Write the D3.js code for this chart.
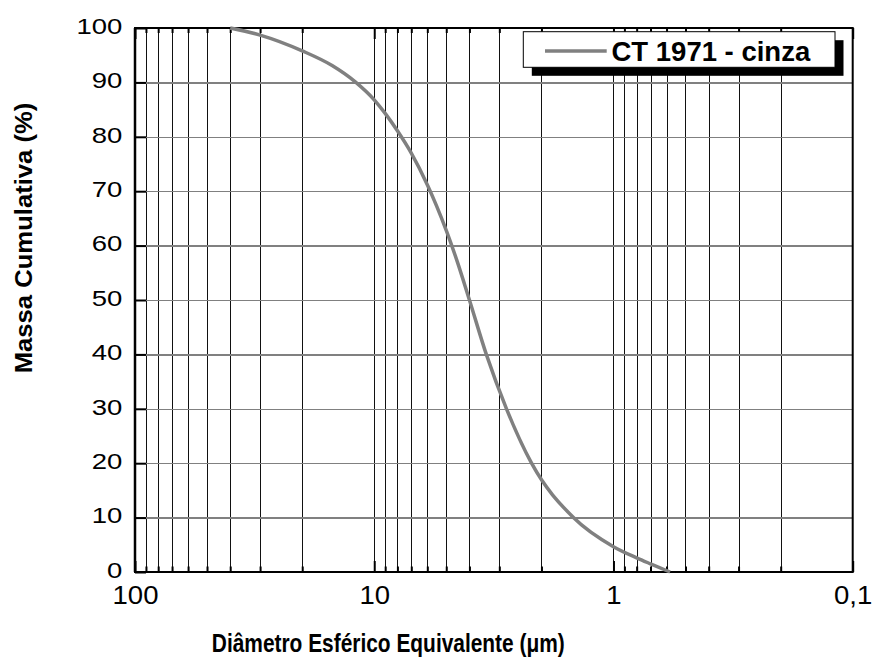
<!DOCTYPE html>
<html>
<head>
<meta charset="utf-8">
<style>
    body { margin: 0; background: #fff; }
    svg { display: block; }
    text { font-family: Arial, 'Liberation Sans', sans-serif; }
    .grid .domain, .ticks .domain, .labels .domain { display: none; }
    .vgrid line { stroke: #111; stroke-width: 1; shape-rendering: crispEdges; }
    .hgrid line { stroke: #808080; stroke-width: 1.4; shape-rendering: crispEdges; }
    .ticks line { stroke: #000; stroke-width: 2; }
    .labels line { display: none; }
    .labels text { fill: #000; font-family: Arial, 'Liberation Sans', sans-serif; }
</style>
</head>
<body>
<svg width="874" height="664"></svg>

<script src="https://d3js.org/d3.v7.min.js"></script>
<script>
// particle size distribution
const diameter = [40, 30, 20, 15, 12, 10, 9, 8, 7, 6, 5.5, 5, 4.5, 4, 3.4, 2.8, 2.2, 1.47, 1, 0.8, 0.7, 0.58];
const cumulative = [100, 98.7, 95.8, 93.1, 90.1, 86.8, 84.3, 81.1, 77.0, 71.2, 67.4, 62.8, 57.1, 50, 40, 30, 20, 10, 4.65, 2.6, 1.5, 0];

const xDecades = [100, 10, 1, 0.1];
const xMinor = [90, 80, 70, 60, 50, 40, 30, 20, 9, 8, 7, 6, 5, 4, 3, 2, 0.9, 0.8, 0.7, 0.6, 0.5, 0.4, 0.3, 0.2];
const yTicks = [0, 10, 20, 30, 40, 50, 60, 70, 80, 90, 100];

const seriesName = "CT 1971 - cinza";
const xTitle = "Diâmetro Esférico Equivalente (μm)";
const yTitle = "Massa Cumulativa (%)";

const pLeft = 135, pRight = 852.7, pTop = 28, pBottom = 572;

let svg = d3.select("svg");

let x = d3.scaleLog().domain([100, 0.1]).range([pLeft, pRight]);
let y = d3.scaleLinear().domain([0, 100]).range([pBottom, pTop]);

// vertical grid
svg.append("g")
    .attr("class", "grid vgrid")
    .attr("transform", `translate(0,${pBottom})`)
    .call(d3.axisBottom(x).tickValues(xMinor.concat([10, 1])).tickSize(-(pBottom - pTop)).tickFormat(""));

// horizontal grid
svg.append("g")
    .attr("class", "grid hgrid")
    .attr("transform", `translate(${pLeft},0)`)
    .call(d3.axisLeft(y).tickValues(yTicks.slice(1, -1)).tickSize(-(pRight - pLeft)).tickFormat(""));

// inward tick marks
function tickAxis(axis, vals, size, tr) {
    svg.append("g")
        .attr("class", "ticks")
        .attr("transform", tr)
        .call(axis.tickValues(vals).tickSize(size).tickFormat(""));
}
tickAxis(d3.axisBottom(x), xMinor, -5.5, `translate(0,${pBottom})`);
tickAxis(d3.axisBottom(x), xDecades, -11, `translate(0,${pBottom})`);
tickAxis(d3.axisTop(x), xMinor, -5, `translate(0,${pTop})`);
tickAxis(d3.axisTop(x), xDecades, -11, `translate(0,${pTop})`);
tickAxis(d3.axisLeft(y), yTicks, -11, `translate(${pLeft},0)`);

// frame
svg.append("rect")
    .attr("x", pLeft).attr("y", pTop)
    .attr("width", pRight - pLeft).attr("height", pBottom - pTop)
    .style("fill", "none").style("stroke", "#000").style("stroke-width", 2);
svg.append("line")
    .attr("x1", pLeft).attr("x2", pLeft).attr("y1", pTop).attr("y2", pBottom)
    .style("stroke", "#000").style("stroke-width", 2.5);

// labels
let yLab = svg.append("g")
    .attr("class", "labels")
    .attr("transform", `translate(${pLeft},0)`)
    .call(d3.axisLeft(y).tickValues(yTicks).tickSize(0));
yLab.selectAll("text")
    .style("font-size", "22px")
    .attr("x", -12.7 / 1.25)
    .attr("dy", 5.3)
    .attr("transform", "scale(1.25,1)");

let xLab = svg.append("g")
    .attr("class", "labels")
    .attr("transform", `translate(0,${pBottom})`)
    .call(d3.axisBottom(x).tickValues(xDecades).tickSize(0).tickFormat(d => String(d).replace(".", ",")));
xLab.selectAll("text")
    .style("font-size", "25.5px")
    .attr("y", 32.3)
    .attr("dy", 0)
    .attr("transform", "scale(1.08,1)");

svg.append("text")
    .attr("transform", "translate(388.3,651.7) scale(0.82,1)")
    .attr("text-anchor", "middle")
    .style("font-size", "25.5px")
    .style("font-weight", "bold")
    .text(xTitle);

svg.append("text")
    .attr("transform", "translate(31.7,238) rotate(-90) scale(1.1,1)")
    .attr("text-anchor", "middle")
    .style("font-size", "23.3px")
    .style("font-weight", "bold")
    .text(yTitle);

// curve
let pts = diameter.map((d, i) => ({ d: d, v: cumulative[i] }));
let line = d3.line()
    .x(p => x(p.d))
    .y(p => y(p.v))
    .curve(d3.curveMonotoneX);

svg.append("path")
    .attr("d", line(pts))
    .style("fill", "none")
    .style("stroke", "#808080")
    .style("stroke-width", 3.5)
    .style("stroke-linejoin", "round");

// legend
let lg = svg.append("g");
lg.append("rect")
    .attr("x", 531.8).attr("y", 40.2).attr("width", 311.7).attr("height", 35.6)
    .style("fill", "#000");
lg.append("rect")
    .attr("x", 523.3).attr("y", 31.7).attr("width", 311.7).attr("height", 35.6)
    .style("fill", "#fff").style("stroke", "#000").style("stroke-width", 1);
lg.append("line")
    .attr("x1", 545).attr("x2", 606.7).attr("y1", 51).attr("y2", 51)
    .style("stroke", "#808080").style("stroke-width", 3.5);
lg.append("text")
    .attr("x", 611.5).attr("y", 60.7)
    .style("font-size", "27.5px")
    .style("font-weight", "bold")
    .text(seriesName);
</script>
</body>
</html>
